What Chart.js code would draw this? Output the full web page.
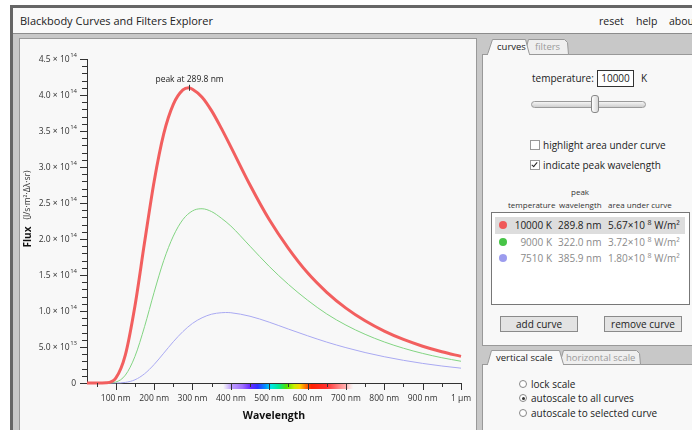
<!DOCTYPE html>
<html>
<head>
<meta charset="utf-8">
<title>Blackbody Curves and Filters Explorer</title>
<script src="https://cdn.jsdelivr.net/npm/chart.js@4.4.1/dist/chart.umd.min.js"></script>
<style>
  body { margin: 0; width: 692px; height: 430px; overflow: hidden; background: #fff;
         font-family: "Open Sans", sans-serif; color: #222; position: relative; }
  .a { position: absolute; white-space: nowrap; }
  #frame { left: 10px; top: 5px; width: 700px; height: 440px; background: #666; }
  #app { left: 13px; top: 8px; width: 700px; height: 440px; background: #c8c8c8; }
  #titlebar { left: 13px; top: 8px; width: 700px; height: 25px; background: #f9f9f9; border-bottom: 1px solid #8c8c8c; }
  #title { left: 20px; top: 13px; font-size: 11px; line-height: 16px; }
  .menu { top: 14px; font-size: 10.5px; line-height: 14px; }
  #chartPanel { left: 19px; top: 38px; width: 456px; height: 400px; background: #f8f8f8; border: 1px solid #999; }
  #chartPanel canvas { position: absolute; left: 0; top: 0; }
  .box { background: #f8f8f8; border: 1px solid #999; }
  .tabtxt { font-size: 9.5px; line-height: 14px; }
  .t10 { font-size: 10px; line-height: 14px; }
  .t8 { font-size: 8px; line-height: 10px; color: #333; }
  .chk { width: 8px; height: 8px; border: 1px solid #999; background: #fff; }
  .tick { left: 2px; top: 0px; width: 2px; height: 5px; border-right: 1.5px solid #222; border-bottom: 1.5px solid #222; transform: rotate(40deg); }
  .dot { width: 8px; height: 8px; border-radius: 50%; }
  .btn { height: 14px; background: #e3e3e3; border: 1px solid #8a8a8a; font-size: 10px; line-height: 14px; text-align: center; }
  .radio { width: 6px; height: 6px; border: 1px solid #888; border-radius: 50%; background: #fff; }
  .radio i { position: absolute; left: 1.5px; top: 1.5px; width: 3px; height: 3px; border-radius: 50%; background: #333; }
  sup { font-size: 7px; vertical-align: 4px; line-height: 0; }
</style>
</head>
<body>
<div id="frame" class="a"></div>
<div id="app" class="a"></div>
<div id="titlebar" class="a"></div>
<div id="title" class="a">Blackbody Curves and Filters Explorer</div>
<div class="a menu" style="left:599px">reset</div>
<div class="a menu" style="left:636px">help</div>
<div class="a menu" style="left:669px">about</div>

<div id="chartPanel" class="a"><canvas id="fluxChart" width="456" height="391"></canvas></div>

<!-- curves / filters panel -->
<div class="a box" style="left:482px; top:54px; width:220px; height:290px;"></div>
<svg class="a" style="left:482px; top:36px;" width="210" height="21">
  <polygon points="42.5,18.5 46.5,3.5 82.5,3.5 85.5,6.5 86.5,18.5" fill="#efefef" stroke="#999"/>
  <polygon points="5.5,18.5 10.5,3.5 43.5,3.5 47.5,18.5" fill="#f8f8f8" stroke="#999"/>
  <rect x="6" y="17.6" width="41" height="3" fill="#f8f8f8"/>
</svg>
<div class="a tabtxt" style="left:497px; top:40px;">curves</div>
<div class="a tabtxt" style="left:535px; top:40px; color:#9a9a9a;">filters</div>

<div class="a t10" style="left:532px; top:71px;">temperature:</div>
<div class="a t10" style="left:597px; top:70px; width:35px; height:15px; border:1px solid #333; background:#fff; text-align:center; line-height:15px;">10000</div>
<div class="a t10" style="left:641px; top:71px;">K</div>
<div class="a" style="left:531px; top:101px; width:113px; height:5px; border:1px solid #9a9a9a; border-radius:4px; background:linear-gradient(#f4f4f4,#cfcfcf);"></div>
<div class="a" style="left:591px; top:95px; width:6px; height:16px; border:1px solid #888; border-radius:3px; background:linear-gradient(90deg,#fff,#d8d8d8);"></div>

<div class="a chk" style="left:530px; top:140px;"></div>
<div class="a t10" style="left:543px; top:138px;">highlight area under curve</div>
<div class="a chk" style="left:530px; top:160px;"><div class="a tick"></div></div>
<div class="a t10" style="left:543px; top:158px;">indicate peak wavelength</div>

<div class="a t8" style="left:571px; top:187px;">peak</div>
<div class="a t8" style="left:508px; top:200px;">temperature</div>
<div class="a t8" style="left:559px; top:200px;">wavelength</div>
<div class="a t8" style="left:608px; top:200px;">area under curve</div>
<div class="a" style="left:491px; top:212px; width:197px; height:91px; border:1px solid #777; background:#fff;"></div>
<div class="a" style="left:495px; top:217px; width:190px; height:17px; background:#dddddd;"></div>
<div id="curveRows"></div>

<div class="a btn" style="left:500px; top:316px; width:76px;">add curve</div>
<div class="a btn" style="left:604px; top:316px; width:76px;">remove curve</div>

<!-- vertical / horizontal scale panel -->
<div class="a box" style="left:482px; top:364px; width:220px; height:80px;"></div>
<svg class="a" style="left:482px; top:346px;" width="210" height="21">
  <polygon points="77.5,18.5 81.5,4.5 154.5,4.5 157.5,7.5 158.5,18.5" fill="#efefef" stroke="#999"/>
  <polygon points="5.5,18.5 9.5,4.5 77.5,4.5 81.5,18.5" fill="#f8f8f8" stroke="#999"/>
  <rect x="6" y="17.6" width="75" height="3" fill="#f8f8f8"/>
</svg>
<div class="a tabtxt" style="left:496px; top:351px;">vertical scale</div>
<div class="a tabtxt" style="left:566px; top:351px; color:#9a9a9a;">horizontal scale</div>

<div class="a radio" style="left:519px; top:380px;"></div>
<div class="a t10" style="left:531px; top:377px;">lock scale</div>
<div class="a radio" style="left:519px; top:394px;"><i></i></div>
<div class="a t10" style="left:531px; top:391px;">autoscale to all curves</div>
<div class="a radio" style="left:519px; top:409px;"></div>
<div class="a t10" style="left:531px; top:406px;">autoscale to selected curve</div>

<script>
// wavelength grid in nm
const wavelengths = [25, 50, 75, 100, 125, 150, 175, 200, 225, 250, 275, 300, 325, 350, 375, 400,
                     450, 500, 550, 600, 650, 700, 750, 800, 850, 900, 950, 1000];

// flux in units of 10^14 J/s·m²·Δλ·sr
const flux10000 = [0, 0, 0.0024, 0.067, 0.391, 1.07, 1.95, 2.80, 3.46, 3.87, 4.07, 4.08, 3.97, 3.78, 3.54, 3.28,
                   2.75, 2.27, 1.87, 1.53, 1.26, 1.04, 0.864, 0.721, 0.605, 0.511, 0.434, 0.370];
const flux9000  = [0, 0, 0.0003, 0.0136, 0.109, 0.369, 0.782, 1.26, 1.70, 2.04, 2.27, 2.39, 2.42, 2.38, 2.29, 2.18,
                   1.90, 1.62, 1.37, 1.15, 0.959, 0.804, 0.676, 0.570, 0.483, 0.411, 0.351, 0.302];
const flux7510  = [0, 0, 0, 0.0006, 0.0086, 0.0445, 0.128, 0.257, 0.414, 0.573, 0.714, 0.828, 0.906, 0.956, 0.976, 0.976,
                   0.927, 0.845, 0.749, 0.656, 0.568, 0.491, 0.423, 0.365, 0.315, 0.272, 0.236, 0.206];

const temperatures = [10000, 9000, 7510];
const peakWavelength = [289.8, 322.0, 385.9];
const peakFlux = [4.10, 2.42, 0.979];
const areaMantissa = ['5.67', '3.72', '1.80'];
const curveColors = ['#f25f5f', '#82d482', '#a9a9f2'];
const dotColors = ['#f05858', '#47c447', '#9c9cee'];

const xTickValues = [100, 200, 300, 400, 500, 600, 700, 800, 900, 1000];
const xTickLabels = ['100 nm', '200 nm', '300 nm', '400 nm', '500 nm', '600 nm', '700 nm', '800 nm', '900 nm', '1 μm'];
const yTickValues = [0, 0.5, 1.0, 1.5, 2.0, 2.5, 3.0, 3.5, 4.0, 4.5];
const yTickLabels = [['0', ''], ['5.0 × 10', '13'], ['1.0 × 10', '14'], ['1.5 × 10', '14'], ['2.0 × 10', '14'],
                     ['2.5 × 10', '14'], ['3.0 × 10', '14'], ['3.5 × 10', '14'], ['4.0 × 10', '14'], ['4.5 × 10', '14']];

// table of curves on the right
const rows = document.getElementById('curveRows');
temperatures.forEach((t, i) => {
  const y = 218 + i * 16.5;
  const col = i === 0 ? '#222' : '#8a8a8a';
  rows.insertAdjacentHTML('beforeend',
    `<div class="a dot" style="left:499px; top:${y + 3}px; background:${dotColors[i]}"></div>` +
    `<div class="a t10" style="left:505px; width:47px; text-align:right; top:${y}px; color:${col}">${t} K</div>` +
    `<div class="a t10" style="left:558px; top:${y}px; color:${col}">${peakWavelength[i].toFixed(1)} nm</div>` +
    `<div class="a t10" style="left:608px; top:${y}px; color:${col}">${areaMantissa[i]}×10 <sup>8</sup> W/m²</div>`);
});

// merge the peak point into each curve so the maximum sits exactly on it
function curvePoints(values, i) {
  const pts = wavelengths.map((w, k) => ({ x: w, y: values[k] }));
  pts.push({ x: peakWavelength[i], y: peakFlux[i] });
  return pts.sort((a, b) => a.x - b.x);
}

const FONT = '"Open Sans", sans-serif';

const spectrumStops = [
  [380, 'rgba(190,160,255,0)'], [400, 'rgba(185,150,255,0.9)'], [430, '#a070ff'], [450, '#6a2cff'],
  [470, '#3030ff'], [490, '#0090ff'], [505, '#00e6e6'], [525, '#00e890'], [545, '#50e000'],
  [565, '#c8f000'], [580, '#ffd000'], [595, '#ff7000'], [610, '#ff2000'], [650, '#ff3030'],
  [680, '#ff8080'], [700, '#ffb0b0'], [720, 'rgba(255,210,210,0)']
];

const axisDecor = {
  id: 'axisDecor',
  afterDraw(chart) {
    const { ctx, chartArea: area, scales: { x, y } } = chart;
    ctx.save();

    // visible spectrum strip under the wavelength axis
    const x0 = x.getPixelForValue(380), x1 = x.getPixelForValue(720);
    const grad = ctx.createLinearGradient(x0, 0, x1, 0);
    spectrumStops.forEach(([w, c]) => grad.addColorStop((w - 380) / 340, c));
    ctx.fillStyle = grad;
    ctx.fillRect(x0, area.bottom + 1, x1 - x0, 5);

    ctx.strokeStyle = '#333';
    ctx.lineWidth = 1;
    ctx.beginPath();
    for (let w = 50; w <= 1000; w += 50) {
      const px = Math.round(x.getPixelForValue(w)) + 0.5;
      const len = w % 100 === 0 ? 7 : 4;
      ctx.moveTo(px, area.bottom);
      ctx.lineTo(px, area.bottom + len);
    }
    for (let k = 0; k <= 45; k++) {
      const py = Math.round(y.getPixelForValue(k / 10)) + 0.5;
      const len = k % 5 === 0 ? 7 : 5;
      ctx.moveTo(area.left, py);
      ctx.lineTo(area.left - len, py);
    }
    ctx.stroke();

    // wavelength labels
    ctx.fillStyle = '#333';
    ctx.font = '8.5px ' + FONT;
    ctx.textAlign = 'center';
    ctx.textBaseline = 'middle';
    xTickValues.forEach((w, k) => ctx.fillText(xTickLabels[k], x.getPixelForValue(w), area.bottom + 16));

    // flux labels with raised exponent
    const right = area.left - 10;
    yTickValues.forEach((v, k) => {
      const [main, exp] = yTickLabels[k];
      const py = y.getPixelForValue(v);
      ctx.font = '6px ' + FONT;
      const ew = exp ? ctx.measureText(exp).width : 0;
      ctx.textAlign = 'left';
      if (exp) ctx.fillText(exp, right - ew, py - 4);
      ctx.font = '8.5px ' + FONT;
      ctx.textAlign = 'right';
      ctx.fillText(main, right - ew - (exp ? 0.5 : 1), py + 0.5);
    });

    // axis titles
    ctx.fillStyle = '#111';
    ctx.font = 'bold 10.5px ' + FONT;
    ctx.textAlign = 'center';
    ctx.fillText('Wavelength', (area.left + area.right) / 2, area.bottom + 33);

    ctx.save();
    ctx.translate(8, 170);
    ctx.rotate(-Math.PI / 2);
    ctx.font = 'bold 10px ' + FONT;
    const fw = ctx.measureText('Flux').width;
    ctx.font = '8.5px ' + FONT;
    const uw = ctx.measureText('(J/s·m²·Δλ·sr)').width;
    const start = -(fw + 7 + uw) / 2;
    ctx.textAlign = 'left';
    ctx.font = 'bold 10px ' + FONT;
    ctx.fillText('Flux', start, 0);
    ctx.font = '8.5px ' + FONT;
    ctx.fillStyle = '#333';
    ctx.fillText('(J/s·m²·Δλ·sr)', start + fw + 7, 0);
    ctx.restore();

    // peak marker for the selected curve
    const pkx = x.getPixelForValue(peakWavelength[0]);
    const pky = y.getPixelForValue(peakFlux[0]);
    ctx.strokeStyle = '#333';
    ctx.beginPath();
    ctx.moveTo(Math.round(pkx) + 0.5, pky - 3);
    ctx.lineTo(Math.round(pkx) + 0.5, pky + 3);
    ctx.stroke();
    ctx.fillStyle = '#222';
    ctx.font = '8.5px ' + FONT;
    ctx.textAlign = 'center';
    ctx.textBaseline = 'alphabetic';
    ctx.fillText('peak at ' + peakWavelength[0].toFixed(1) + ' nm', pkx + 1, pky - 6);

    ctx.restore();
  }
};

const series = [flux10000, flux9000, flux7510];
new Chart(document.getElementById('fluxChart'), {
  type: 'line',
  data: {
    datasets: series.map((values, i) => ({
      label: temperatures[i] + ' K',
      data: curvePoints(values, i),
      borderColor: curveColors[i],
      borderWidth: i === 0 ? 3 : 1,
      pointRadius: 0,
      cubicInterpolationMode: 'monotone',
      clip: 4
    }))
  },
  options: {
    responsive: false,
    animation: false,
    events: [],
    layout: { padding: { left: 0, right: 15, top: 20, bottom: 0 } },
    plugins: { legend: { display: false }, tooltip: { enabled: false } },
    scales: {
      x: {
        type: 'linear', min: 25, max: 1000,
        grid: { display: false },
        border: { color: '#333', width: 1 },
        ticks: { display: false },
        afterFit: s => { s.height = 47; }
      },
      y: {
        type: 'linear', min: 0, max: 4.5,
        grid: { display: false },
        border: { color: '#333', width: 1 },
        ticks: { display: false },
        afterFit: s => { s.width = 67; }
      }
    }
  },
  plugins: [axisDecor]
});
</script>
</body>
</html>
